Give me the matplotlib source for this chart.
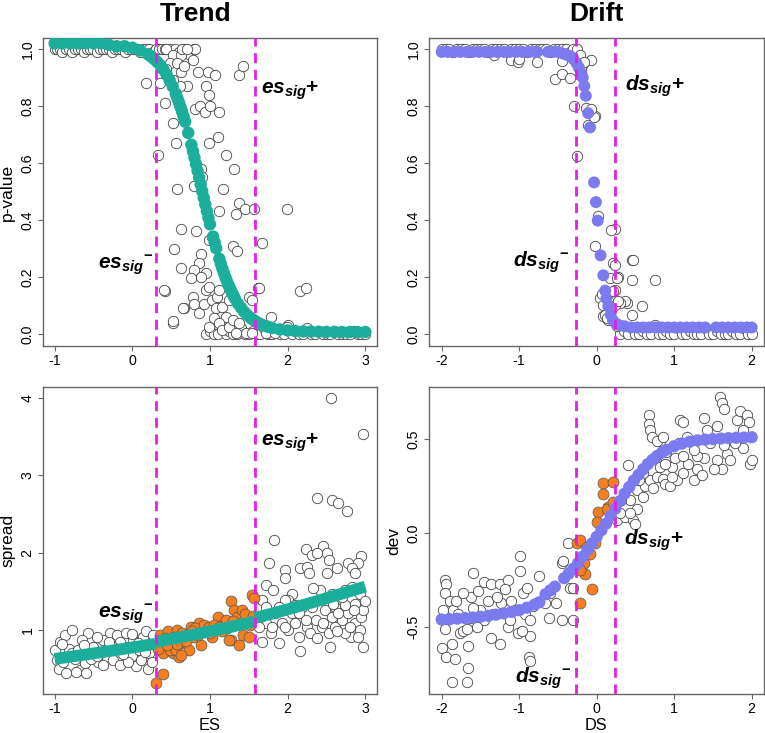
import matplotlib
matplotlib.use("Agg")
import matplotlib.pyplot as plt
import numpy as np

plt.rcParams['font.family'] = ['Liberation Sans', 'DejaVu Sans']
plt.rcParams['mathtext.fontset'] = 'custom'
plt.rcParams['mathtext.it'] = 'Liberation Sans:italic:bold'
plt.rcParams['mathtext.rm'] = 'Liberation Sans:bold'
plt.rcParams['mathtext.bf'] = 'Liberation Sans:bold'

# ---------------- data ----------------
# thresholds
es_lo, es_hi = 0.3, 1.58
ds_lo, ds_hi = -0.265, 0.235

# Trend / p-value : open circles
tp_x = [-1.0, -0.97, -0.93, -0.9, -0.86, -0.82, -0.78, -0.74, -0.7, -0.66, -0.62, -0.58,
        -0.54, -0.5, -0.46, -0.42, -0.38, -0.34, -0.3, -0.26, -0.22, -0.18, -0.14, -0.1,
        -0.06, -0.02, 0.02, 0.06, 0.1, 0.14, 0.18, 0.22, 0.26, 0.3, 0.34, 0.38, 0.42, 0.48,
        0.55, 0.6, 0.68, 0.74, 0.8,
        0.95, 1.0, 1.05, 1.1, 1.15, 1.2, 1.25, 1.3, 1.35, 1.4, 1.45, 1.5, 1.55, 1.6, 1.65,
        1.7, 1.75, 1.8, 1.85, 1.9, 1.95, 2.0, 2.05, 2.1, 2.15, 2.2, 2.25, 2.3, 2.35, 2.4,
        2.45, 2.5, 2.55, 2.6, 2.65, 2.7, 2.75, 2.8, 2.85, 2.9, 2.95, 3.0,
        0.18, 0.35, 0.42, 0.52, 0.56, 0.33, 0.58, 0.79, 0.63, 0.54, 0.63, 0.42, 0.53, 0.66,
        0.71, 0.81, 0.87, 0.85, 0.97, 1.07, 0.95, 0.99, 1.12, 0.99, 1.10, 1.20, 1.31, 1.17,
        1.12, 1.37, 1.45, 1.57, 1.34, 1.29, 1.35, 1.67, 1.37, 1.43, 1.99, 2.16, 2.23, 1.62,
        0.99, 1.03, 0.82, 0.44, 0.52, 0.63, 0.64, 0.48, 0.58, 0.63, 0.44, 0.67, 0.81, 0.78,
        0.71, 0.61, 0.52, 0.94, 1.0, 0.88, 0.90, 0.88, 0.86,
        0.80, 0.755, 0.776, 0.80, 0.86, 0.925, 0.946, 0.99, 1.03, 1.075, 1.096, 1.117, 1.16,
        1.20, 1.245, 0.99, 1.054, 1.117, 1.16, 1.245, 1.33, 1.29, 1.37, 1.50, 1.545, 1.63,
        1.46, 1.545, 1.716, 1.78, 1.84, 1.99, 0.946, 0.88, 0.41, 0.52, 0.65]
tp_y = [1.0, 1.0, 1.0, 0.99, 1.0, 1.0, 0.99, 1.0, 1.0, 1.0, 0.99, 1.0,
        1.0, 1.0, 0.99, 1.0, 1.0, 1.0, 1.0, 0.99, 1.0, 1.0, 1.0, 0.99,
        1.0, 1.0, 1.0, 1.0, 0.99, 1.0, 1.0, 1.0, 0.99, 1.0, 1.0, 1.0, 1.0, 1.0,
        1.0, 0.99, 1.0, 0.98, 1.0,
        0.0, 0.01, 0.0, 0.0, 0.02, 0.0, 0.01, 0.0, 0.0, 0.02, 0.0, 0.0, 0.01, 0.0, 0.0,
        0.02, 0.0, 0.0, 0.01, 0.0, 0.0, 0.03, 0.0, 0.01, 0.0, 0.0, 0.02, 0.0, 0.0, 0.01,
        0.0, 0.0, 0.0, 0.01, 0.0, 0.0, 0.0, 0.0, 0.01, 0.0, 0.0, 0.0,
        0.88, 0.88, 0.81, 0.74, 0.67, 0.63, 0.51, 0.52, 0.37, 0.30, 0.23, 0.15, 0.04, 0.09,
        0.87, 0.79, 0.80, 0.92, 0.92, 0.91, 0.87, 0.84, 0.78, 0.67, 0.69, 0.63, 0.58, 0.51,
        0.43, 0.46, 0.44, 0.44, 0.42, 0.31, 0.29, 0.32, 0.91, 0.94, 0.44, 0.15, 0.16, 0.16,
        0.33, 0.34, 0.36, 1.0, 0.98, 0.98, 1.0, 0.95, 0.95, 0.92, 0.93, 0.94, 1.0, 0.96,
        1.0, 0.87, 0.89, 0.78, 0.80, 0.58, 0.55, 0.28, 0.25,
        0.225, 0.195, 0.131, 0.107, 0.072, 0.107, 0.154, 0.166, 0.119, 0.09, 0.131, 0.154,
        0.095, 0.061, 0.119, 0.026, 0.055, 0.037, 0.014, 0.026, 0.002, 0.049, 0.037, 0.131,
        0.119, 0.16, 0.002, 0.002, 0.002, 0.061, 0.002, 0.026, 0.213, 0.201, 0.155, 0.044,
        0.09]

# Trend / p-value : fitted curve
tp_fit_x = [-1.0, -0.9, -0.8, -0.7, -0.6, -0.5, -0.4, -0.3, -0.2, -0.1, 0.0, 0.1, 0.2,
            0.24, 0.28, 0.32, 0.36, 0.40, 0.44, 0.48, 0.52, 0.56, 0.58, 0.60, 0.62, 0.64,
            0.66, 0.68, 0.72, 0.76, 0.78, 0.80, 0.82, 0.84, 0.86, 0.88, 0.90, 0.92, 0.94,
            0.96, 0.98, 1.00, 1.04, 1.06, 1.08, 1.12, 1.14, 1.16, 1.18, 1.20, 1.22, 1.24,
            1.26, 1.28, 1.30, 1.32, 1.36, 1.40, 1.44, 1.48, 1.52, 1.56, 1.60, 1.65, 1.7,
            1.75, 1.8, 1.9, 2.0, 2.1, 2.2, 2.3, 2.4, 2.5, 2.6, 2.7, 2.8, 2.9, 3.0]
tp_fit_y = [1.02, 1.02, 1.02, 1.02, 1.02, 1.02, 1.02, 1.015, 1.01, 1.01, 1.005, 0.995,
            0.982, 0.974, 0.965, 0.955, 0.943, 0.928, 0.911, 0.891, 0.869, 0.843, 0.828,
            0.813, 0.797, 0.781, 0.763, 0.745, 0.706, 0.664, 0.642, 0.619, 0.596, 0.573,
            0.549, 0.525, 0.501, 0.478, 0.454, 0.431, 0.408, 0.385, 0.342, 0.321, 0.301,
            0.264, 0.246, 0.229, 0.213, 0.198, 0.184, 0.171, 0.159, 0.147, 0.136, 0.125,
            0.107, 0.092, 0.078, 0.067, 0.057, 0.049, 0.042, 0.035, 0.029, 0.025, 0.021,
            0.016, 0.0125, 0.0105, 0.009, 0.0085, 0.008, 0.0075, 0.0072, 0.007, 0.007,
            0.007, 0.007]

# Drift / p-value : open circles
dp_x = [-2.0, -1.95, -1.9, -1.85, -1.8, -1.75, -1.7, -1.65, -1.6, -1.55, -1.5, -1.45,
        -1.4, -1.35, -1.3, -1.25, -1.2, -1.15, -1.1, -1.05, -1.0, -0.95, -0.9, -0.85,
        -0.8, -0.75, -0.7, -0.65, -0.6, -0.55, -0.5, -0.45, -0.4, -0.35, -0.3, -0.25,
        0.3, 0.35, 0.4, 0.45, 0.5, 0.55, 0.6, 0.65, 0.7, 0.75, 0.8, 0.85, 0.9, 0.95, 1.0,
        1.05, 1.1, 1.15, 1.2, 1.25, 1.3, 1.35, 1.4, 1.45, 1.5, 1.55, 1.6, 1.65, 1.7, 1.75,
        1.8, 1.85, 1.9, 1.95, 2.0,
        -1.33, -1.1, -1.01, -1.0, -0.77, -0.54, -0.45, -0.34, -0.45, -0.29, -0.25, -0.19,
        -0.215, -0.07, -0.14, -0.11, -0.02, 0.013, -0.02, 0.237, 0.21, 0.46, 0.28, 0.45,
        0.75, 0.58, 0.39, 0.36, 0.065, 0.086, 0.13, 0.24, 0.19, 0.30, 0.15, 0.26, -0.2,
        -0.16, -0.04, -0.08, 0.043, 0.086, 0.108, 0.129, 0.15, 0.215, 0.237, 0.28, 0.45,
        0.47, 0.19, 0.237, 0.172, 0.258, 0.065]
dp_y = [1.0, 1.0, 1.0, 0.99, 1.0, 1.0, 1.0, 0.99, 1.0, 1.0, 1.0, 1.0,
        0.99, 1.0, 1.0, 1.0, 1.0, 0.99, 1.0, 1.0, 1.0, 1.0, 0.99, 1.0,
        1.0, 1.0, 1.0, 1.0, 0.99, 1.0, 1.0, 1.0, 1.0, 0.99, 1.0, 1.0,
        0.0, 0.01, 0.0, 0.02, 0.0, 0.0, 0.01, 0.0, 0.0, 0.03, 0.0, 0.0, 0.01, 0.0, 0.0,
        0.02, 0.0, 0.0, 0.01, 0.0, 0.0, 0.0, 0.02, 0.0, 0.0, 0.01, 0.0, 0.0, 0.0, 0.01,
        0.0, 0.0, 0.02, 0.0, 0.0,
        0.98, 0.963, 0.953, 0.965, 0.953, 0.896, 0.913, 0.90, 0.957, 0.80, 0.623, 0.945,
        0.98, 0.963, 0.793, 0.735, 0.764, 0.413, 0.31, 0.37, 0.25, 0.26, 0.2, 0.19,
        0.19, 0.10, 0.11, 0.115, 0.138, 0.062, 0.056, 0.156, 0.126, 0.109, 0.05, 0.027,
        0.93, 0.955, 0.76, 0.79, 0.126, 0.103, 0.068, 0.056, 0.139, 0.15, 0.103, 0.115,
        0.068, 0.26, 0.364, 0.243, 0.196, 0.196, 0.139]

# Drift / p-value : fitted curve
dp_fit_x = [-2.0, -1.92, -1.84, -1.76, -1.68, -1.6, -1.52, -1.44, -1.36, -1.28, -1.2,
            -1.12, -1.04, -0.96, -0.88, -0.8, -0.77, -0.63, -0.56, -0.5, -0.44, -0.39,
            -0.34, -0.3, -0.26, -0.23, -0.2, -0.18, -0.16, -0.14, -0.11, -0.086, -0.034,
            -0.01, 0.013, 0.05, 0.086, 0.11, 0.125, 0.15, 0.18, 0.21, 0.25, 0.3, 0.36, 0.44,
            0.52, 0.6, 0.68, 0.76, 0.84, 0.92, 1.0, 1.08, 1.16, 1.24, 1.32, 1.4, 1.54,
            1.62, 1.7, 1.78, 1.86, 1.94, 2.0]
dp_fit_y = [0.99, 0.99, 0.99, 0.99, 0.99, 0.99, 0.99, 0.99, 0.99, 0.99, 0.99,
            0.99, 0.99, 0.99, 0.99, 0.99, 0.99, 0.99, 0.99, 0.99, 0.985, 0.98,
            0.975, 0.965, 0.95, 0.935, 0.915, 0.9, 0.87, 0.836, 0.775, 0.725, 0.532,
            0.463, 0.398, 0.276, 0.206, 0.152, 0.125, 0.097, 0.068, 0.047, 0.036, 0.03,
            0.027, 0.023, 0.023, 0.023, 0.023, 0.023, 0.023, 0.023, 0.023, 0.023, 0.023,
            0.023, 0.023, 0.023, 0.023, 0.023, 0.023, 0.023, 0.023, 0.023, 0.023]

# Trend / spread : open circles (outside the significance band)
ts_x = [-0.99, -0.97, -0.95, -0.93, -0.87, -0.78, -0.82, -0.74, -0.67, -0.59, -0.57, -0.65,
        -0.50, -0.44, -0.42, -0.33, -0.29, -0.20, -0.25, -0.16, -0.10, -0.08, -0.01, 0.01,
        0.05, 0.09, 0.14, 0.20, 0.22, 0.24, -0.78, -0.89, -0.70, -0.61, -0.53, -0.38,
        -0.46, -0.16, -0.06, 0.11, 0.18, 0.07, -0.25, -0.38, -0.57, -0.85, -0.72,
        -0.9, -0.62, -0.3, 0.0, 0.16, 0.27, -0.45, -0.12, 0.25,
        2.56, 2.97, 2.38, 2.57, 2.65, 2.77, 1.83, 1.76,
        2.46, 2.24, 2.31, 2.38, 2.5, 2.53, 2.95, 2.91, 2.78, 2.83, 2.87, 2.16, 2.25, 2.27,
        2.51, 2.63, 1.97, 1.96, 2.06, 2.01, 1.72, 1.81, 2.42, 2.57, 2.33, 2.74, 2.93, 2.83,
        1.67, 1.72, 1.84, 1.93, 2.01, 2.10, 2.14, 2.25, 2.36, 2.44, 2.53, 2.61, 2.70, 2.78,
        2.87, 2.95, 2.93, 2.82, 2.74, 2.55, 2.16, 1.89, 1.67, 1.78, 2.97, 2.06, 2.18, 2.31,
        2.48, 2.61, 2.74, 2.87, 2.97, 1.97, 2.10, 2.40, 2.70, 1.72, 1.80, 1.97, 2.29, 2.38,
        2.46, 2.64, 2.80, 2.91, 1.63, 1.65, 1.89, 2.14, 2.23, 2.57, 2.65, 2.85, 2.99, 2.59]
ts_y = [0.74, 0.61, 0.50, 0.85, 0.94, 1.0, 0.76, 0.63, 0.48, 0.44, 0.96, 0.87,
        0.78, 0.59, 0.70, 0.74, 0.96, 0.94, 0.61, 0.55, 0.78, 0.96, 0.66, 0.87,
        0.53, 0.74, 0.91, 0.50, 0.70, 0.83, 0.70, 0.59, 0.74, 0.57, 0.63, 0.87,
        0.91, 0.85, 0.59, 0.61, 0.98, 0.83, 0.78, 0.55, 0.70, 0.44, 0.46,
        0.82, 0.80, 0.84, 0.95, 0.72, 0.93, 0.66, 0.69, 0.58,
        4.0, 3.53, 2.70, 2.68, 2.64, 2.54, 2.16, 1.87,
        2.08, 2.04, 1.97, 1.99, 1.99, 1.91, 1.95, 1.86, 1.86, 1.80, 1.73, 1.80, 1.82, 1.73,
        1.73, 1.80, 1.77, 1.67, 1.47, 1.39, 1.58, 1.52, 1.52, 1.47, 1.54, 1.52, 1.47, 1.56,
        1.39, 1.30, 1.22, 1.09, 1.0, 1.09, 0.91, 1.04, 1.13, 1.04, 0.96, 1.04, 1.13, 1.22,
        1.09, 1.17, 1.0, 0.91, 0.96, 0.78, 0.73, 0.83, 0.85, 0.96, 0.78, 1.22, 1.30, 1.30,
        1.26, 1.30, 1.32, 1.34, 1.26, 1.39, 1.32, 1.39, 1.43, 1.09, 1.04, 1.04, 0.96, 0.89,
        1.09, 0.98, 1.04, 0.91, 1.04, 1.17, 1.30, 1.22, 1.13, 1.17, 1.22, 1.26, 1.37, 1.34]

# Trend / spread : points inside the band (orange)
ts_sig_x = [0.31, 0.40, 0.35, 0.37, 0.39, 0.46, 0.50, 0.52, 0.60, 0.58, 0.64, 0.66, 0.75,
            0.79, 0.86, 0.88, 0.94, 1.03, 1.10, 1.16, 1.20, 1.27, 1.27, 1.31, 1.35, 1.37,
            1.41, 1.43, 1.48, 1.52, 1.54, 1.57, 1.50, 0.48, 0.56, 0.71, 0.81, 0.92, 0.99,
            1.05, 1.12, 1.22, 1.33, 0.44, 0.54, 0.62, 0.73, 1.25, 0.63, 0.34, 0.42,
            0.33, 0.45, 0.57, 0.69, 0.77, 0.84, 1.0, 1.15, 1.30, 1.45, 1.55]
ts_sig_y = [0.32, 0.43, 0.935, 0.78, 0.70, 0.98, 0.87, 0.70, 0.655, 1.0, 0.96, 0.83, 1.04,
            0.91, 1.09, 0.81, 1.0, 0.91, 1.17, 1.06, 1.13, 1.37, 0.87, 1.26, 1.17, 0.81,
            1.26, 0.935, 1.13, 1.06, 1.45, 1.41, 0.91, 0.74, 0.74, 0.935, 1.02, 1.06, 1.04,
            1.06, 1.04, 1.02, 1.09, 0.85, 0.91, 0.85, 0.74, 0.87, 0.68, 0.82, 0.90,
            0.76, 0.80, 0.82, 0.86, 0.98, 0.94, 0.96, 0.98, 1.12, 1.20, 1.18]

# Trend / spread : fitted curve, three pieces
ts_fit_x1 = [-1.0, -0.9, -0.8, -0.7, -0.6, -0.5, -0.4, -0.3, -0.2, -0.1, 0.0, 0.1, 0.2, 0.3]
ts_fit_y1 = [0.625, 0.64, 0.654, 0.668, 0.682, 0.697, 0.712, 0.727, 0.742, 0.757, 0.773,
             0.789, 0.805, 0.822]
ts_fit_x2 = [0.3, 0.4, 0.5, 0.6, 0.7, 0.8, 0.9, 1.0, 1.1, 1.2, 1.3, 1.4, 1.5, 1.58]
ts_fit_y2 = [0.845, 0.864, 0.883, 0.902, 0.922, 0.942, 0.962, 0.983, 1.004, 1.025, 1.047,
             1.069, 1.092, 1.11]
ts_fit_x3 = [1.58, 1.7, 1.8, 1.9, 2.0, 2.1, 2.2, 2.3, 2.4, 2.5, 2.6, 2.7, 2.8, 2.9, 3.0]
ts_fit_y3 = [1.155, 1.186, 1.212, 1.239, 1.266, 1.294, 1.322, 1.351, 1.38, 1.41, 1.44,
             1.47, 1.50, 1.53, 1.56]

# Drift / dev : open circles
dd_x = [-1.96, -1.94, -1.96, -1.98, -1.89, -1.85, -1.81, -1.96, -2.0, -1.94, -1.87, -1.83,
        -1.87, -1.68, -1.66, -1.77, -1.72, -1.66, -1.68, -1.62, -1.59, -1.53, -1.46, -1.40,
        -1.36, -1.34, -1.25, -1.23, -1.14, -1.10, -1.14, -1.36, -1.25, -1.06, -1.02, -0.99,
        -0.99, -0.95, -0.90, -0.93, -0.86, -0.86, -0.88, -0.86, -0.75, -0.82, -0.97, -1.51,
        -1.64, -1.46, -1.29, -1.12, -1.18, -1.72, -1.79, -1.59, -1.55,
        -0.62, -0.45, -0.30, -0.52, -0.60, -0.67, -0.45, -0.34, -0.30, -0.37, -0.43,
        0.26, 0.37, 0.47, 0.41, 0.43, 0.52, 0.52, 0.60, 0.62, 0.69, 0.78, 0.86, 0.88, 0.95,
        0.82, 0.97, 1.03, 1.12, 1.25, 1.29, 1.38, 1.29, 1.55, 1.62, 1.68, 1.64, 1.72, 1.89,
        1.98, 2.0, 0.67, 0.67, 0.69, 0.71, 0.82, 0.90, 1.08, 1.12, 1.38, 1.42, 1.59, 1.62,
        1.64, 1.55, 1.81, 1.85, 1.94, 1.96, 1.89, 1.78, 1.16, 1.25, 1.06, 1.01, 0.78, 0.88,
        1.46, 1.51, 1.36, 1.18, 0.60, 0.54, 0.32, 0.30, 0.43, 0.50, 0.78, 0.86, 1.12, 0.97,
        0.73]
dd_y = [-0.25, -0.27, -0.32, -0.41, -0.36, -0.41, -0.36, -0.51, -0.61, -0.66, -0.59, -0.67,
        -0.79, -0.79, -0.72, -0.53, -0.52, -0.60, -0.51, -0.34, -0.21, -0.31, -0.26, -0.36,
        -0.27, -0.43, -0.27, -0.37, -0.25, -0.36, -0.50, -0.56, -0.59, -0.41, -0.53, -0.20,
        -0.12, -0.32, -0.29, -0.43, -0.46, -0.55, -0.66, -0.68, -0.23, -0.39, -0.52, -0.41,
        -0.45, -0.46, -0.34, -0.46, -0.30, -0.32, -0.43, -0.40, -0.50,
        -0.45, -0.46, -0.46, -0.37, -0.32, -0.37, -0.16, -0.29, -0.29, -0.055, -0.15,
        0.07, 0.087, 0.07, 0.36, 0.175, 0.13, 0.23, 0.19, 0.25, 0.28, 0.30, 0.29, 0.26, 0.25,
        0.35, 0.35, 0.28, 0.32, 0.28, 0.34, 0.40, 0.41, 0.39, 0.34, 0.42, 0.47, 0.39, 0.45,
        0.37, 0.39, 0.63, 0.58, 0.55, 0.51, 0.49, 0.43, 0.60, 0.59, 0.61, 0.55, 0.725, 0.69,
        0.66, 0.57, 0.60, 0.65, 0.63, 0.59, 0.55, 0.48, 0.51, 0.44, 0.48, 0.40, 0.41, 0.37,
        0.48, 0.34, 0.31, 0.37, 0.32, 0.28, 0.175, 0.105, 0.105, 0.05, 0.49, 0.51, 0.41, 0.30,
        0.24]

# Drift / dev : points inside the band (orange)
dd_sig_x = [0.086, 0.21, 0.086, 0.15, 0.02, 0.13, 0.21, 0.0, -0.02, -0.26, -0.22, -0.13,
            -0.17, -0.15, -0.22, -0.065, -0.215, -0.09]
dd_sig_y = [0.264, 0.273, 0.21, 0.14, 0.113, 0.13, 0.167, 0.06, -0.055, -0.055, -0.037,
            -0.073, -0.16, -0.215, -0.197, -0.30, -0.374, -0.11]

# Drift / dev : fitted curve
dd_fit_x = [-2.0, -1.9, -1.8, -1.7, -1.6, -1.5, -1.4, -1.3, -1.2, -1.1, -1.0, -0.9, -0.8,
            -0.74, -0.66, -0.6, -0.54, -0.42, -0.36, -0.3, -0.24, -0.18, -0.12, -0.06, 0.0,
            0.06, 0.12, 0.18, 0.24, 0.3, 0.36, 0.42, 0.48, 0.54, 0.6, 0.66, 0.72, 0.78, 0.84,
            0.9, 1.0, 1.1, 1.2, 1.3, 1.4, 1.5, 1.6, 1.7, 1.8, 1.9, 2.0]
dd_fit_y = [-0.46, -0.458, -0.455, -0.452, -0.449, -0.445, -0.44, -0.434, -0.427, -0.419,
            -0.41, -0.397, -0.38, -0.368, -0.325, -0.305, -0.285, -0.24, -0.215, -0.19,
            -0.16, -0.125, -0.09, -0.055, -0.02, 0.015, 0.05, 0.09, 0.13, 0.17, 0.21, 0.245,
            0.28, 0.31, 0.34, 0.367, 0.39, 0.41, 0.428, 0.443, 0.462, 0.476, 0.486, 0.493,
            0.497, 0.5, 0.503, 0.505, 0.507, 0.508, 0.51]

# ---------------- styling ----------------
teal = '#1bae9b'
violet = '#7b7bef'
orange = '#f57f20'
magenta = '#e61ee6'
box = '#666666'

fig = plt.figure(figsize=(7.65, 7.33), dpi=100)
ax_tl = fig.add_axes([0.0562, 0.528, 0.4366, 0.4202])
ax_tr = fig.add_axes([0.5608, 0.528, 0.4379, 0.4202])
ax_bl = fig.add_axes([0.0562, 0.0532, 0.4366, 0.4188])
ax_br = fig.add_axes([0.5608, 0.0532, 0.4379, 0.4188])


def style(ax, xlim, ylim, xticks, yticks, ylabels):
    ax.set_xlim(*xlim)
    ax.set_ylim(*ylim)
    ax.set_xticks(xticks)
    ax.set_xticklabels([str(t) for t in xticks])
    ax.set_yticks(yticks)
    ax.set_yticklabels(ylabels, rotation=90, va='center')
    for s in ax.spines.values():
        s.set_color(box)
        s.set_linewidth(1.0)
    ax.tick_params(length=3.5, width=0.8, color=box, labelsize=10.2, pad=2.5)


def open_pts(ax, x, y):
    ax.scatter(x, y, s=56, facecolors='white', edgecolors='#444444',
               linewidths=0.6, zorder=2)


def vlines(ax, lo, hi):
    for v in (lo, hi):
        ax.axvline(v, color=magenta, lw=2.0, ls=(0, (3.6, 2.4)), zorder=5)


p_ticks = [0.0, 0.2, 0.4, 0.6, 0.8, 1.0]
p_labels = ['0.0', '0.2', '0.4', '0.6', '0.8', '1.0']
ann = dict(fontsize=15, fontweight='bold', zorder=6)

# Trend p-value
open_pts(ax_tl, tp_x, tp_y)
ax_tl.scatter(tp_fit_x, tp_fit_y, s=80, color=teal, edgecolors='none', zorder=4)
vlines(ax_tl, es_lo, es_hi)
style(ax_tl, (-1.15, 3.15), (-0.042, 1.039), [-1, 0, 1, 2, 3], p_ticks, p_labels)
ax_tl.set_ylabel('p-value', fontsize=12.5, labelpad=4)
ax_tl.text(1.655, 0.845, r'$es_{sig}$+', ha='left', va='baseline', **ann)
ax_tl.text(0.27, 0.23, r'$es_{sig}{}^{-}$', ha='right', va='baseline', **ann)

# Drift p-value
open_pts(ax_tr, dp_x, dp_y)
ax_tr.scatter(dp_fit_x, dp_fit_y, s=74, color=violet, edgecolors='none', zorder=4)
vlines(ax_tr, ds_lo, ds_hi)
style(ax_tr, (-2.164, 2.159), (-0.042, 1.039), [-2, -1, 0, 1, 2], p_ticks, p_labels)
ax_tr.text(0.365, 0.854, r'$ds_{sig}$+', ha='left', va='baseline', **ann)
ax_tr.text(-0.35, 0.236, r'$ds_{sig}{}^{-}$', ha='right', va='baseline', **ann)

# Trend spread
open_pts(ax_bl, ts_x, ts_y)
ax_bl.scatter(ts_sig_x, ts_sig_y, s=62, color=orange, edgecolors='#555555',
              linewidths=0.5, zorder=3)
for fx, fy in ((ts_fit_x1, ts_fit_y1), (ts_fit_x2, ts_fit_y2), (ts_fit_x3, ts_fit_y3)):
    ax_bl.plot(fx, fy, color=teal, lw=8.5, solid_capstyle='butt', zorder=4)
vlines(ax_bl, es_lo, es_hi)
style(ax_bl, (-1.15, 3.15), (0.172, 4.14), [-1, 0, 1, 2, 3], [1, 2, 3, 4],
      ['1', '2', '3', '4'])
ax_bl.set_ylabel('spread', fontsize=12.5, labelpad=4)
ax_bl.text(1.655, 3.38, r'$es_{sig}$+', ha='left', va='baseline', **ann)
ax_bl.text(0.27, 1.155, r'$es_{sig}{}^{-}$', ha='right', va='baseline', **ann)

# Drift dev
open_pts(ax_br, dd_x, dd_y)
ax_br.scatter(dd_sig_x, dd_sig_y, s=62, color=orange, edgecolors='#555555',
              linewidths=0.5, zorder=3)
ax_br.scatter(dd_fit_x, dd_fit_y, s=78, color=violet, edgecolors='none', zorder=4)
vlines(ax_br, ds_lo, ds_hi)
style(ax_br, (-2.164, 2.159), (-0.856, 0.777), [-2, -1, 0, 1, 2], [-0.5, 0.0, 0.5],
      ['-0.5', '0.0', '0.5'])
ax_br.set_ylabel('dev', fontsize=12.5, labelpad=4)
ax_br.text(0.35, -0.064, r'$ds_{sig}$+', ha='left', va='baseline', **ann)
ax_br.text(-0.33, -0.796, r'$ds_{sig}{}^{-}$', ha='right', va='baseline', **ann)

# x-axis titles placed near the bottom edge, as in the reference
fig.text(210 / 765, 1 - 729.5 / 733, 'ES', ha='center', va='baseline', fontsize=11.8)
fig.text(596 / 765, 1 - 729.5 / 733, 'DS', ha='center', va='baseline', fontsize=11.8)

fig.text(196 / 765, 1 - 21 / 733, 'Trend', ha='center', va='baseline',
         fontsize=19, fontweight='bold')
fig.text(596 / 765, 1 - 21 / 733, 'Drift', ha='center', va='baseline',
         fontsize=19, fontweight='bold')

fig.savefig('out.png', dpi=100)
